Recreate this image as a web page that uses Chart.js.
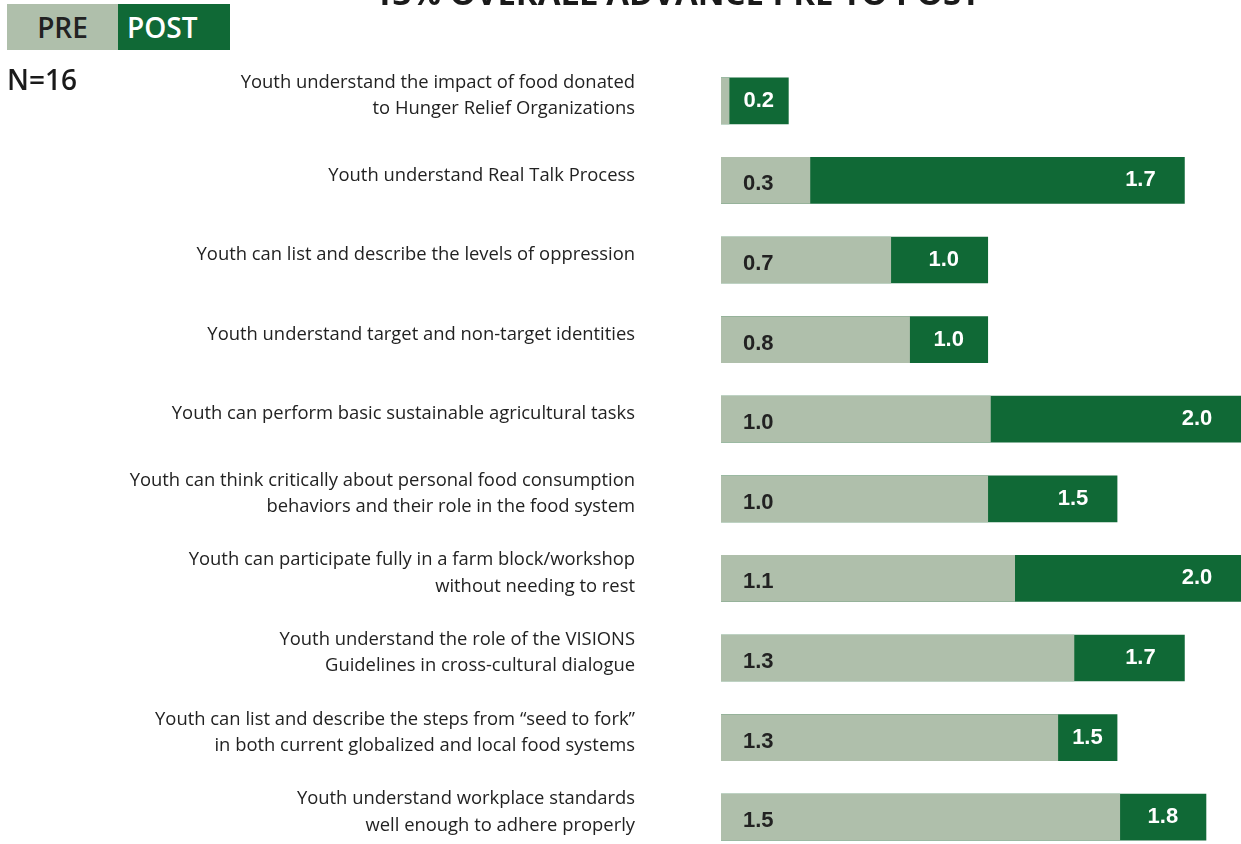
<!DOCTYPE html>
<html>
<head>
<meta charset="utf-8">
<script src="https://cdn.jsdelivr.net/npm/chart.js@4"></script>
<style>
  html, body { margin:0; padding:0; background:#fff; overflow:hidden; }
  body { width:1241px; height:844px; position:relative; font-family:"Open Sans", sans-serif; }
  #wrap { position:absolute; left:0; top:0; width:1241px; height:870px; }
  .title { position:absolute; left:0; width:1354px; top:-30px; text-align:center; font-weight:700; font-size:33px; color:#1a1a1a; white-space:nowrap; }
  .leg { position:absolute; top:4px; height:46px; line-height:46px; font-size:28px; font-weight:600; }
  .leg.pre { left:7px; width:111px; background:#afbfab; color:#222; text-align:center; }
  .leg.post { left:118px; width:103px; padding-left:9px; background:#106936; color:#fff; }
  .n { position:absolute; left:7px; top:60px; font-size:28px; font-weight:600; color:#1a1a1a; }
</style>
</head>
<body>
<div id="wrap"><canvas id="chart" width="1241" height="870"></canvas></div>
<div class="title">13% OVERALL ADVANCE PRE TO POST</div>
<div class="leg pre">PRE</div>
<div class="leg post">POST</div>
<div class="n">N=16</div>
<script>
/* ---------- Data ---------- */
const CATEGORIES = [
  ['Youth understand the impact of food donated', 'to Hunger Relief Organizations'],
  'Youth understand Real Talk Process',
  'Youth can list and describe the levels of oppression',
  'Youth understand target and non-target identities',
  'Youth can perform basic sustainable agricultural tasks',
  ['Youth can think critically about personal food consumption', 'behaviors and their role in the food system'],
  ['Youth can participate fully in a farm block/workshop', 'without needing to rest'],
  ['Youth understand the role of the VISIONS', 'Guidelines in cross-cultural dialogue'],
  ['Youth can list and describe the steps from \u201cseed to fork\u201d', 'in both current globalized and local food systems'],
  ['Youth understand workplace standards', 'well enough to adhere properly']
];
// bar lengths
const PRE_VALUES  = [0.03, 0.33, 0.63, 0.70, 1.00, 0.99, 1.09, 1.31, 1.25, 1.48];
const POST_VALUES = [0.25, 1.72, 0.99, 0.99, 2.00, 1.47, 2.00, 1.72, 1.47, 1.80];
// printed labels
const PRE_LABELS  = [null, '0.3', '0.7', '0.8', '1.0', '1.0', '1.1', '1.3', '1.3', '1.5'];
const POST_LABELS = ['0.2', '1.7', '1.0', '1.0', '2.0', '1.5', '2.0', '1.7', '1.5', '1.8'];

const PRE_COLOR  = '#afbfab';
const POST_COLOR = '#106936';

/* ---------- Value labels ---------- */
const valueLabels = {
  id: 'valueLabels',
  afterDatasetsDraw(chart){
    const ctx = chart.ctx;
    const area = chart.chartArea;
    const pre = chart.getDatasetMeta(0).data;
    const post = chart.getDatasetMeta(1).data;
    ctx.save();
    ctx.font = 'bold 22px "Liberation Sans", Arial, sans-serif';
    ctx.textBaseline = 'middle';
    pre.forEach((bar, i)=>{
      if(!PRE_LABELS[i]) return;
      ctx.fillStyle = '#222';
      ctx.textAlign = 'left';
      ctx.fillText(PRE_LABELS[i], bar.base + 22, bar.y + 4);
    });
    post.forEach((bar, i)=>{
      const end = Math.min(bar.x, area.right);
      const start = pre[i].x;
      const x = Math.max((start + end) / 2, end - 44);
      ctx.fillStyle = '#fff';
      ctx.textAlign = 'center';
      ctx.fillText(POST_LABELS[i], x, bar.y);
    });
    ctx.restore();
  }
};

new Chart(document.getElementById('chart'), {
  type: 'bar',
  data: {
    labels: CATEGORIES,
    datasets: [
      { label:'PRE',  data:PRE_VALUES,  backgroundColor:PRE_COLOR,  order:0 },
      { label:'POST', data:POST_VALUES, backgroundColor:POST_COLOR, order:1 }
    ]
  },
  options: {
    indexAxis: 'y',
    responsive: false,
    animation: false,
    layout: { padding: { top:61, bottom:13, left:0, right:0 } },
    datasets: { bar: { grouped:false, barThickness:46 } },
    plugins: { legend:{ display:false }, tooltip:{ enabled:false } },
    scales: {
      x: { display:false, min:0, max:1.93 },
      y: {
        grid: { display:false, drawTicks:false },
        border: { display:false },
        afterFit(scale){ scale.width = 721; scale.paddingTop = 0; scale.paddingBottom = 0; },
        ticks: {
          padding: 86,
          labelOffset: -5,
          color: '#222',
          font: { family:'"Open Sans", sans-serif', size:18.4, lineHeight:1.43 }
        }
      }
    }
  },
  plugins: [valueLabels]
});
</script>
</body>
</html>
